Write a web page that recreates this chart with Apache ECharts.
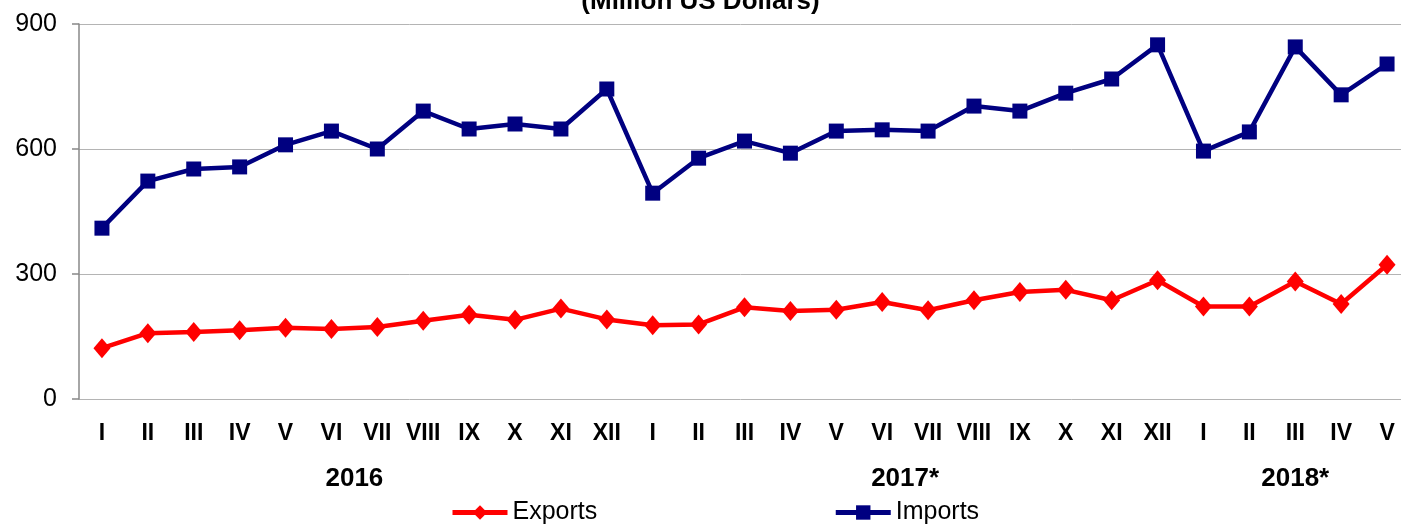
<!DOCTYPE html>
<html>
<head>
<meta charset="utf-8">
<script src="https://cdn.jsdelivr.net/npm/echarts@6/dist/echarts.min.js"></script>
<style>
  html, body { margin: 0; padding: 0; background: #fff; }
  #chart { width: 1401px; height: 525px; }
</style>
</head>
<body>
<div id="chart"></div>
<script>
// months: 2016 I-XII, 2017 I-XII, 2018 I-V
const months = ['I','II','III','IV','V','VI','VII','VIII','IX','X','XI','XII',
  'I','II','III','IV','V','VI','VII','VIII','IX','X','XI','XII',
  'I','II','III','IV','V']
const exportsData = [122,158,161,165,171,168,173,188,202,190,217,191,
  177,179,220,211,214,233,213,237,257,262,237,285,
  222,222,282,228,322]
const importsData = [410,523,552,557,610,643,600,691,648,660,648,744,
  494,578,619,590,643,646,643,703,691,734,768,850,
  595,641,845,730,804]
const yearLabels = ['2016','2017*','2018*']
// half-step slots (2*index+1) where the year labels sit
const yearSlots = [12,36,53]

const yearAxisData = []
for (let k = 0; k <= 58; k++) {
  const j = yearSlots.indexOf(k)
  yearAxisData.push(j >= 0 ? yearLabels[j] : '')
}

const font = '"Liberation Sans", Arial, sans-serif'
const chart = echarts.init(document.getElementById('chart'))
chart.setOption({
  animation: false,
  title: {
    text: '(Million US Dollars)',
    left: 'center',
    top: -16,
    textStyle: { fontFamily: font, fontSize: 26, fontWeight: 'bold', color: '#000' }
  },
  legend: {
    bottom: -5,
    left: 445,
    itemWidth: 55,
    itemHeight: 18,
    itemGap: 236,
    lineStyle: { width: 5 },
    textStyle: { fontFamily: font, fontSize: 25, color: '#000' },
    data: ['Exports', 'Imports']
  },
  grid: { left: 79, top: 24, right: -9, bottom: 126, outerBoundsMode: 'none' },
  xAxis: [{
    type: 'category',
    data: months,
    axisLine: { show: false },
    axisTick: { show: false },
    axisLabel: { interval: 0, margin: 23, fontFamily: font, fontSize: 23, fontWeight: 'bold', color: '#000' }
  }, {
    type: 'category',
    data: yearAxisData,
    position: 'bottom',
    boundaryGap: false,
    axisLine: { show: false },
    axisTick: { show: false },
    axisLabel: { interval: 0, margin: 67, fontFamily: font, fontSize: 26, fontWeight: 'bold', color: '#000' }
  }],
  yAxis: {
    type: 'value',
    min: 0,
    max: 900,
    interval: 300,
    axisLine: { show: true, lineStyle: { color: '#888', width: 1.5 } },
    axisTick: { show: true, inside: false, length: 7, lineStyle: { color: '#888', width: 1.5 } },
    splitLine: { lineStyle: { color: '#b4b4b4', width: 1 } },
    axisLabel: { margin: 22, fontFamily: font, fontSize: 25, color: '#000' }
  },
  series: [{
    name: 'Exports',
    type: 'line',
    data: exportsData,
    symbol: 'diamond',
    symbolSize: [17, 20],
    lineStyle: { color: '#ff0000', width: 4.5 },
    itemStyle: { color: '#ff0000' }
  }, {
    name: 'Imports',
    type: 'line',
    data: importsData,
    symbol: 'rect',
    symbolSize: 15,
    lineStyle: { color: '#000080', width: 4.5 },
    itemStyle: { color: '#000080' }
  }]
})
</script>
</body>
</html>
